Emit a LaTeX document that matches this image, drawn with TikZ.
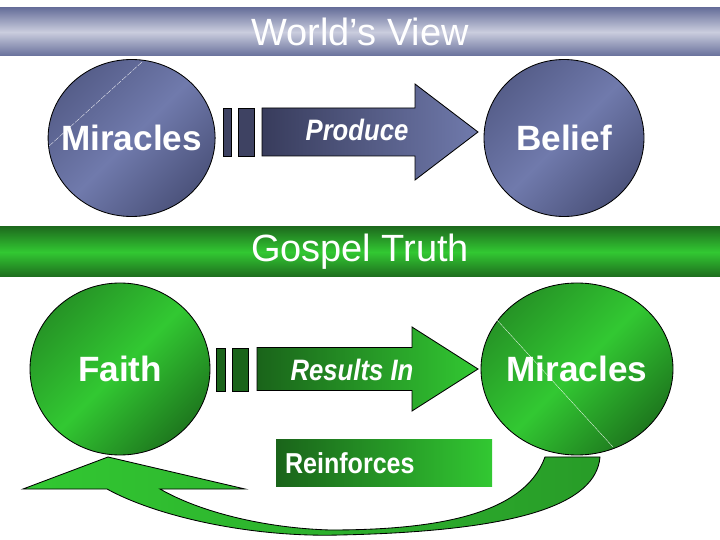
\documentclass[tikz,border=0pt]{standalone}
\usepackage{fontspec}
\setmainfont{Liberation Sans}
\newfontfamily\armfont{Liberation Sans}[FakeStretch=0.87]
\usetikzlibrary{shapes.geometric}
\definecolor{wvedge}{RGB}{104,112,155}
\definecolor{wvmid}{RGB}{202,205,222}
\definecolor{navylight}{RGB}{112,122,172}
\definecolor{navyshade}{RGB}{86,94,138}
\definecolor{navydeep}{RGB}{76,83,124}
\definecolor{navydark}{RGB}{56,60,92}
\definecolor{navybar}{RGB}{62,66,98}
\definecolor{glight}{RGB}{50,200,50}
\definecolor{gshade}{RGB}{38,148,38}
\definecolor{gdeep}{RGB}{30,120,30}
\definecolor{gmid}{RGB}{40,156,40}
\definecolor{gdark}{RGB}{26,100,26}
\definecolor{gtedge}{RGB}{30,108,30}
\tikzstyle{banner} = [rectangle, 
minimum width=18cm, 
inner sep=0pt, 
text=white, 
font=\fontsize{27}{32}\selectfont]
\tikzstyle{blueball} = [ellipse, 
draw=black, line width=0.6pt, 
top color=navyshade, bottom color=navydeep, middle color=navylight, 
shading angle=45]
\tikzstyle{greenball} = [ellipse, 
draw=black, line width=0.6pt, 
top color=gshade, bottom color=gdeep, middle color=glight, 
shading angle=45]
\tikzstyle{balltext} = [text=white, font=\fontsize{25}{30}\selectfont\bfseries]
\tikzstyle{gap} = [rectangle, draw=black, line width=0.6pt, inner sep=0pt]
\tikzstyle{blockarrow} = [draw=black, line width=0.6pt]
\tikzstyle{armtext} = [text=white, font=\armfont\fontsize{21}{25}\selectfont\bfseries\itshape]

\begin{document}
\begin{tikzpicture}[node distance=2cm]
\useasboundingbox (0,0) rectangle (18,13.5);

% banners
\node (wv) [banner, minimum height=1.2cm, top color=wvedge, bottom color=wvedge, middle color=wvmid] at (9,12.7) {World's View};
\node (gt) [banner, minimum height=1.25cm, top color=gtedge, bottom color=gtedge, middle color=glight] at (9,7.2) {Gospel Truth};

% world's view row
\node (mir) [blueball, minimum width=4.175cm, minimum height=3.925cm, label={[balltext]center:Miracles}] at (3.29,10.05) {};
\node (bel) [blueball, minimum width=4cm, minimum height=3.925cm, label={[balltext]center:Belief}, right of=mir, xshift=8.81cm] {};
\draw[white, very thin, dashed, dash pattern=on 4pt off 1pt] (3.55,11.95) -- (1.2,9.825);

\node (gapa1) [gap, fill=navybar, minimum width=0.2cm, minimum height=1.2cm] at (5.675,10.2) {};
\node (gapa2) [gap, fill=navybar, minimum width=0.4cm, minimum height=1.2cm] at (6.15,10.2) {};
\path[blockarrow, left color=navydark, right color=navylight] (6.55,9.6) -- (10.375,9.6) -- (10.375,9) -- (11.95,10.2) -- (10.375,11.4) -- (10.375,10.8) -- (6.55,10.8) -- cycle;
\node (prod) [armtext] at (8.925,10.25) {Produce};

% gospel truth row
\node (fai) [greenball, minimum width=4.5cm, minimum height=4.3cm, label={[balltext]center:Faith}] at (3,4.275) {};
\node (mir2) [greenball, minimum width=4.8cm, minimum height=4.3cm, label={[balltext]center:Miracles}, right of=fai, xshift=9.425cm] {};
\draw[white, very thin] (12.425,5.5) -- (15.325,2.325);

\node (gapb1) [gap, fill=gdark, minimum width=0.225cm, minimum height=1.075cm] at (5.5125,4.2625) {};
\node (gapb2) [gap, fill=gdark, minimum width=0.4cm, minimum height=1.075cm] at (6,4.2625) {};
\path[blockarrow, left color=gdark, right color=glight] (6.425,3.7375) -- (10.3,3.7375) -- (10.3,3.225) -- (11.95,4.275) -- (10.3,5.325) -- (10.3,4.8125) -- (6.425,4.8125) -- cycle;
\node (res) [armtext] at (8.8,4.25) {Results In};

\node (rf) [rectangle, left color=gdark, right color=glight, minimum height=1.175cm, text width=4.95cm, inner xsep=0.225cm, align=left, text=white, font=\armfont\fontsize{20.5}{24}\selectfont\bfseries] at (9.6,1.9125) {Reinforces};

% loop back from miracles to faith
\path[blockarrow, left color=glight, right color=gmid] (13.625,2.075) -- (15,2.075) .. controls (14.9,0.9) and (13,0.2) .. (8.25,0.12) .. controls (6,0.1) and (3.8,0.65) .. (2.675,1.275) -- (0.575,1.275) -- (2.7,2.075) -- (6.125,1.275) -- (4,1.275) .. controls (5,0.7) and (6.6,0.3) .. (8.25,0.25) .. controls (10.8,0.25) and (13.1,0.6) .. (13.625,2.075) -- cycle;

\end{tikzpicture}
\end{document}
